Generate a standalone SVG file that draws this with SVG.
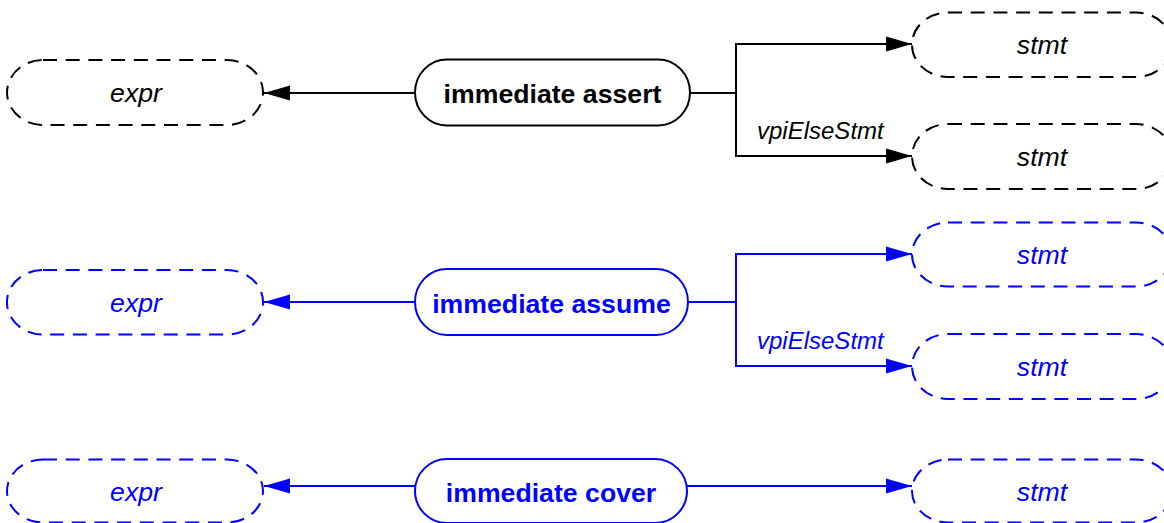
<svg xmlns="http://www.w3.org/2000/svg" width="1164" height="523" viewBox="0 0 1164 523">
  <style>
    text { font-family: "Liberation Sans", Arial, sans-serif; font-size: 26.67px; text-anchor: middle; }
    .obj { font-style: italic; }
    .main { font-weight: bold; }
    .lbl { font-style: italic; font-size: 24px; text-anchor: start; }
    .dash { fill: #fff; stroke-width: 2; stroke-dasharray: 14 8.7; }
    .solid { fill: #fff; stroke-width: 2; }
    .edge { fill: none; stroke-width: 2; }
    .k { stroke: #000; }
    .b { stroke: #0000ff; }
    text.k { fill: #000; stroke: none; }
    text.b { fill: #0000ff; stroke: none; }
  </style>
  <defs>
    <marker id="arrK" markerUnits="userSpaceOnUse" markerWidth="27" markerHeight="16" refX="26" refY="8" orient="auto">
      <path d="M0,0.5 L26,8 L0,15.5 z" fill="#000"/>
    </marker>
    <marker id="arrB" markerUnits="userSpaceOnUse" markerWidth="27" markerHeight="16" refX="26" refY="8" orient="auto">
      <path d="M0,0.5 L26,8 L0,15.5 z" fill="#0000ff"/>
    </marker>
  </defs>

  <!-- connectors -->
  <g id="edges">
    <!-- assert -->
    <line class="edge k" x1="415" y1="93" x2="264" y2="93" marker-end="url(#arrK)"/>
    <polyline class="edge k" points="690,93 736,93"/>
    <polyline class="edge k" points="736,93 736,44 912,44" marker-end="url(#arrK)"/>
    <polyline class="edge k" points="736,93 736,156 912,156" marker-end="url(#arrK)"/>
    <text class="lbl k" x="757" y="139">vpiElseStmt</text>
    <!-- assume -->
    <line class="edge b" x1="415" y1="302" x2="264" y2="302" marker-end="url(#arrB)"/>
    <polyline class="edge b" points="688,302 736,302"/>
    <polyline class="edge b" points="736,302 736,254 912,254" marker-end="url(#arrB)"/>
    <polyline class="edge b" points="736,302 736,366 912,366" marker-end="url(#arrB)"/>
    <text class="lbl b" x="757" y="349">vpiElseStmt</text>
    <!-- cover -->
    <line class="edge b" x1="415" y1="486" x2="264" y2="486" marker-end="url(#arrB)"/>
    <line class="edge b" x1="687" y1="486" x2="912" y2="486" marker-end="url(#arrB)"/>
  </g>

  <!-- immediate assert group -->
  <g id="assert_expr">
    <rect class="dash k" x="7" y="60" width="256" height="65" rx="36" ry="32.5"/>
    <text class="obj k" x="136" y="102">expr</text>
  </g>
  <g id="immediate_assert">
    <rect class="solid k" x="415" y="59.5" width="275" height="66" rx="32" ry="33"/>
    <text class="main k" x="552.5" y="102.5">immediate assert</text>
  </g>
  <g id="assert_stmt">
    <rect class="dash k" x="912" y="12.5" width="260" height="64.5" rx="36" ry="32"/>
    <text class="obj k" x="1042" y="54">stmt</text>
  </g>
  <g id="assert_else_stmt">
    <rect class="dash k" x="912" y="124" width="260" height="65" rx="36" ry="32.5"/>
    <text class="obj k" x="1042" y="166">stmt</text>
  </g>

  <!-- immediate assume group -->
  <g id="assume_expr">
    <rect class="dash b" x="7" y="270" width="256" height="64.5" rx="36" ry="32"/>
    <text class="obj b" x="136" y="311.5">expr</text>
  </g>
  <g id="immediate_assume">
    <rect class="solid b" x="415" y="269" width="273" height="66" rx="32" ry="33"/>
    <text class="main b" x="551.5" y="312.5">immediate assume</text>
  </g>
  <g id="assume_stmt">
    <rect class="dash b" x="912" y="222.5" width="260" height="64" rx="36" ry="32"/>
    <text class="obj b" x="1042" y="264">stmt</text>
  </g>
  <g id="assume_else_stmt">
    <rect class="dash b" x="912" y="334" width="260" height="65" rx="36" ry="32.5"/>
    <text class="obj b" x="1042" y="376">stmt</text>
  </g>

  <!-- immediate cover group -->
  <g id="cover_expr">
    <rect class="dash b" x="7" y="459.5" width="256" height="63" rx="36" ry="31.5"/>
    <text class="obj b" x="136" y="500.5">expr</text>
  </g>
  <g id="immediate_cover">
    <rect class="solid b" x="415" y="459" width="272" height="64" rx="32" ry="32"/>
    <text class="main b" x="551" y="501.5">immediate cover</text>
  </g>
  <g id="cover_stmt">
    <rect class="dash b" x="912" y="459.5" width="260" height="63" rx="36" ry="31.5"/>
    <text class="obj b" x="1042" y="500.5">stmt</text>
  </g>
</svg>
